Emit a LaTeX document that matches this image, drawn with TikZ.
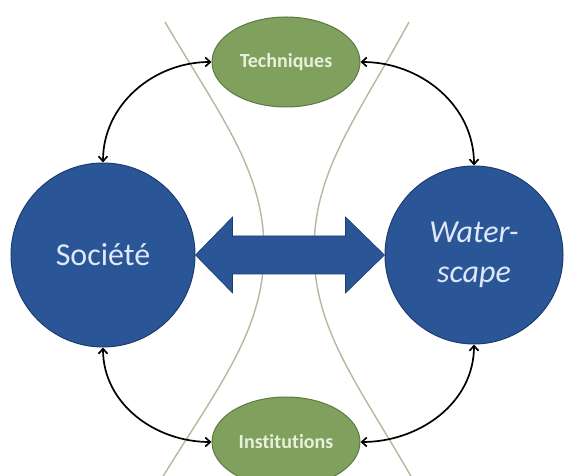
\documentclass[tikz,border=0pt]{standalone}
\usepackage{fontspec}
\setmainfont{Carlito}[Ligatures=NoCommon]
\usetikzlibrary{shapes.geometric,arrows.meta,calc}
\definecolor{CircFill}{RGB}{42,86,152}
\definecolor{CircLine}{RGB}{28,60,112}
\definecolor{CircText}{RGB}{222,232,246}
\definecolor{EllFill} {RGB}{128,160,94}
\definecolor{EllLine} {RGB}{92,122,62}
\definecolor{EllText} {RGB}{232,240,220}
\definecolor{HypLine} {RGB}{184,182,156}
\tikzset{
  nd_circ/.style={
    circle, draw=CircLine, fill=CircFill, line width=1pt,
    inner sep=0pt, text=CircText, align=center,
    font=\fontsize{32}{40}\selectfont},
  nd_ell/.style={
    ellipse, draw=EllLine, fill=EllFill, line width=1pt,
    minimum width=148pt, minimum height=90pt, inner sep=0pt,
    text=EllText, font=\fontsize{20}{24}\selectfont\bfseries},
  arr/.style={{Straight Barb[length=5pt,width=9pt]}-{Straight Barb[length=5pt,width=9pt]},
    line width=1.7pt},
  hyp/.style={draw=HypLine, line width=1.4pt},
  blk/.style={fill=CircFill, draw=CircLine, line width=0.6pt},
}

\begin{document}
\begin{tikzpicture}[x=1pt,y=1pt]
\useasboundingbox (0,0) rectangle (565,476);

%% separating curves
\draw[hyp] (165,454) .. controls (220,360) and (264,306) .. (264,226)
                     .. controls (264,146) and (220,92) .. (162,-2);
\draw[hyp] (409,454) .. controls (358,360) and (314,306) .. (314,226)
                     .. controls (314,146) and (358,92) .. (412,-2);

%% main nodes
\node[nd_circ, minimum size=184pt] at (103,221) (Soc){Société};
\node[nd_circ, minimum size=178pt, font=\fontsize{32}{40}\selectfont\itshape]
  at (474,221) (Wat){Water-\\scape};
\node[nd_ell] at (286,414) (Tech){Techniques};
\node[nd_ell] at (286,34)  (Inst){Institutions};

%% big two-way arrow
\path[blk] (Soc.east) -- ($(Soc.east)+(37,38)$) -- ($(Soc.east)+(37,19)$)
  -- ($(Wat.west)+(-39,19)$) -- ($(Wat.west)+(-39,38)$) -- (Wat.west)
  -- ($(Wat.west)+(-39,-38)$) -- ($(Wat.west)+(-39,-19)$)
  -- ($(Soc.east)+(37,-19)$) -- ($(Soc.east)+(37,-38)$) -- cycle;

\draw[arr] (Soc.north) to[out=90,in=180]  (Tech.west);
\draw[arr] (Tech.east) to[out=0,in=90]    (Wat.north);
\draw[arr] (Soc.south) to[out=-90,in=180] (Inst.west);
\draw[arr] (Inst.east) to[out=0,in=-90]   (Wat.south);

\end{tikzpicture}
\end{document}
